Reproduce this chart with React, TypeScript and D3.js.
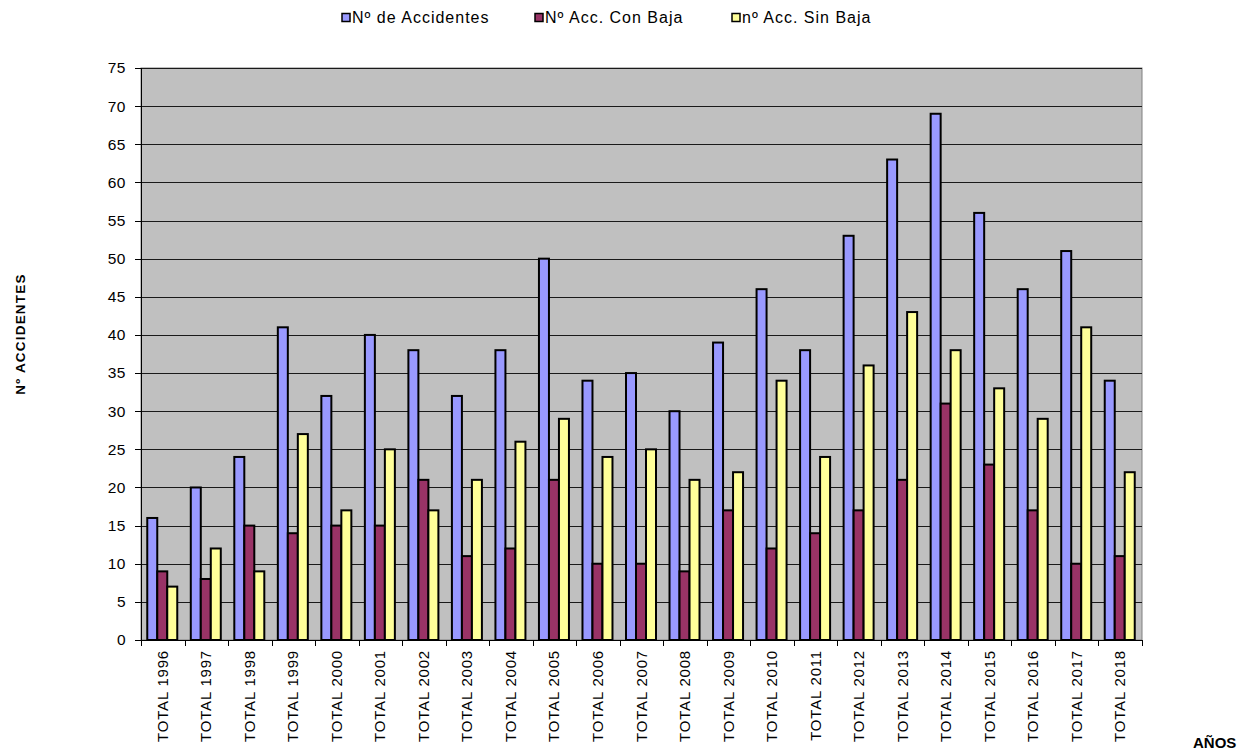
import React, { useEffect, useRef } from 'react';
import * as d3 from 'd3';

const years = [
  'TOTAL 1996', 'TOTAL 1997', 'TOTAL 1998', 'TOTAL 1999', 'TOTAL 2000', 'TOTAL 2001',
  'TOTAL 2002', 'TOTAL 2003', 'TOTAL 2004', 'TOTAL 2005', 'TOTAL 2006', 'TOTAL 2007',
  'TOTAL 2008', 'TOTAL 2009', 'TOTAL 2010', 'TOTAL 2011', 'TOTAL 2012', 'TOTAL 2013',
  'TOTAL 2014', 'TOTAL 2015', 'TOTAL 2016', 'TOTAL 2017', 'TOTAL 2018',
];
const accidentes = [16, 20, 24, 41, 32, 40, 38, 32, 38, 50, 34, 35, 30, 39, 46, 38, 53, 63, 69, 56, 46, 51, 34];
const conBaja = [9, 8, 15, 14, 15, 15, 21, 11, 12, 21, 10, 10, 9, 17, 12, 14, 17, 21, 31, 23, 17, 10, 11];
const sinBaja = [7, 12, 9, 27, 17, 25, 17, 21, 26, 29, 24, 25, 21, 22, 34, 24, 36, 43, 38, 33, 29, 41, 22];
const yTicks = d3.range(0, 80, 5);

const seriesList = [
  { name: 'Nº de Accidentes', values: accidentes, color: '#9999FF' },
  { name: 'Nº Acc. Con Baja', values: conBaja, color: '#993366' },
  { name: 'nº Acc. Sin Baja', values: sinBaja, color: '#FFFF99' },
];

const W = 1246;
const H = 753;
const plot = { left: 141, right: 1142, top: 68, bottom: 640 };

const App: React.FC = () => {
  const svgRef = useRef<SVGSVGElement>(null);

  useEffect(() => {
    if (!svgRef.current) return;
    const svg = d3.select(svgRef.current);
    svg.selectAll('*').remove();
    svg.attr('font-family', "'Liberation Sans', Arial, sans-serif");

    const x = d3.scaleBand().domain(years).range([plot.left, plot.right]);
    const y = d3.scaleLinear().domain([0, 75]).range([plot.bottom, plot.top]);

    // plot background
    svg.append('rect')
      .attr('x', plot.left).attr('y', plot.top)
      .attr('width', plot.right - plot.left).attr('height', plot.bottom - plot.top)
      .attr('fill', '#C0C0C0').attr('stroke', '#808080').attr('stroke-width', 1);

    // gridlines
    svg.append('g').selectAll('line')
      .data(yTicks.filter(d => d > 0))
      .join('line')
      .attr('x1', plot.left).attr('x2', plot.right)
      .attr('y1', d => Math.round(y(d)) + 0.5).attr('y2', d => Math.round(y(d)) + 0.5)
      .attr('stroke', '#1a1a1a').attr('stroke-width', 1);

    // bars
    const barW = 10;
    const groupW = barW * 3;
    const bars = svg.append('g');
    seriesList.forEach((s, si) => {
      bars.append('g').selectAll('rect')
        .data(s.values)
        .join('rect')
        .attr('x', (_d, i) => (x(years[i]) ?? 0) + (x.bandwidth() - groupW) / 2 - 0.5 + si * barW)
        .attr('y', d => y(d))
        .attr('width', barW)
        .attr('height', d => y(0) - y(d))
        .attr('fill', s.color)
        .attr('stroke', '#000')
        .attr('stroke-width', 2);
    });

    // y axis
    const yAxis = svg.append('g');
    yAxis.append('line')
      .attr('x1', plot.left + 0.5).attr('x2', plot.left + 0.5)
      .attr('y1', plot.top).attr('y2', plot.bottom)
      .attr('stroke', '#000');
    const yt = yAxis.selectAll('g.tick').data(yTicks).join('g').attr('class', 'tick');
    yt.append('line')
      .attr('x1', plot.left - 6).attr('x2', plot.left)
      .attr('y1', d => Math.round(y(d)) + 0.5).attr('y2', d => Math.round(y(d)) + 0.5)
      .attr('stroke', '#000');
    yt.append('text')
      .attr('x', plot.left - 15).attr('y', d => y(d))
      .attr('dy', '0.35em')
      .attr('text-anchor', 'end')
      .attr('font-size', 15.5)
      .attr('letter-spacing', 0.5)
      .text(d => d);

    // x axis
    const xAxis = svg.append('g');
    xAxis.append('line')
      .attr('x1', plot.left).attr('x2', plot.right)
      .attr('y1', plot.bottom + 0.5).attr('y2', plot.bottom + 0.5)
      .attr('stroke', '#000');
    xAxis.selectAll('line.tk')
      .data(d3.range(years.length + 1))
      .join('line')
      .attr('class', 'tk')
      .attr('x1', i => Math.round(plot.left + i * x.step()) + 0.5)
      .attr('x2', i => Math.round(plot.left + i * x.step()) + 0.5)
      .attr('y1', plot.bottom).attr('y2', plot.bottom + 6)
      .attr('stroke', '#000');
    xAxis.selectAll('text')
      .data(years)
      .join('text')
      .attr('transform', d => `translate(${(x(d) ?? 0) + x.bandwidth() / 2 + 5},${plot.bottom + 10}) rotate(-90)`)
      .attr('text-anchor', 'end')
      .attr('font-size', 15)
      .attr('letter-spacing', 0.8)
      .text(d => d);

    // axis titles
    svg.append('text')
      .attr('transform', `translate(25,334) rotate(-90)`)
      .attr('text-anchor', 'middle')
      .attr('font-size', 13.5)
      .attr('font-weight', 'bold')
      .attr('letter-spacing', 1.2)
      .text('Nº ACCIDENTES');
    svg.append('text')
      .attr('x', 1193).attr('y', 748)
      .attr('font-size', 15)
      .attr('font-weight', 'bold')
      .text('AÑOS');

    // legend
    const legendX = [342, 535, 732];
    const lg = svg.append('g').selectAll('g').data(seriesList).join('g')
      .attr('transform', (_d, i) => `translate(${legendX[i]},13.5)`);
    lg.append('rect')
      .attr('x', 0).attr('y', 0).attr('width', 8).attr('height', 8)
      .attr('fill', d => d.color).attr('stroke', '#000').attr('stroke-width', 1.5);
    lg.append('text')
      .attr('x', 10).attr('y', 9.5)
      .attr('font-size', 16)
      .attr('letter-spacing', 1)
      .text(d => d.name);
  }, []);

  return (
    <svg
      ref={svgRef}
      width={W}
      height={H}
      style={{ position: 'absolute', left: 0, top: 0, display: 'block', background: '#fff' }}
    />
  );
};

export default App;
